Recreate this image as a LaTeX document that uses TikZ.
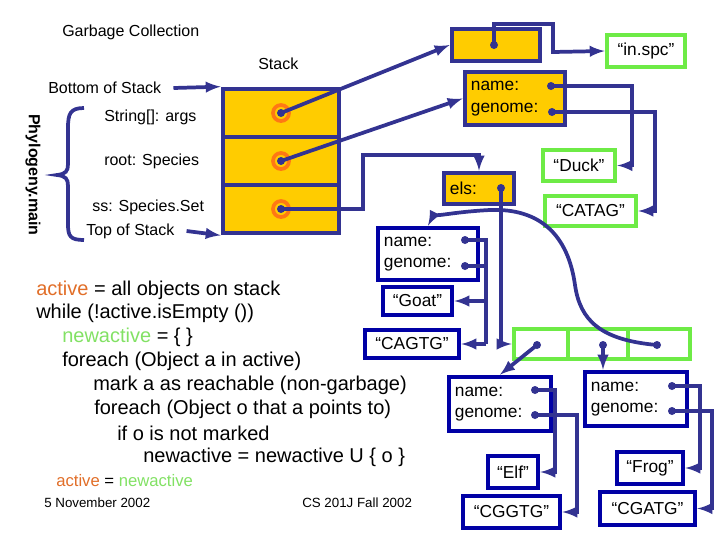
\documentclass[tikz,border=0pt]{standalone}
\usepackage{fontspec}
\setmainfont{Liberation Sans}
\usepackage{xcolor}
\usetikzlibrary{calc, arrows}
\definecolor{navy}{RGB}{51,51,145}
\definecolor{deepblue}{RGB}{0,0,165}
\definecolor{gold}{RGB}{255,204,0}
\definecolor{lime}{RGB}{110,235,70}
\definecolor{ring}{RGB}{255,120,20}
\definecolor{actcol}{RGB}{225,110,40}
\definecolor{newcol}{RGB}{130,225,100}
\tikzset{
  ybox/.style={draw=navy, fill=gold, line width=3.5pt, inner sep=0pt},
  gbox/.style={draw=lime, fill=white, line width=3.5pt, inner sep=0pt, font=\fontsize{13}{15}\selectfont},
  bbox/.style={draw=deepblue, fill=white, line width=3.5pt, inner sep=0pt, font=\fontsize{13}{15}\selectfont},
  ptr/.style={draw=navy, line width=2.8pt},
  arr/.style={ptr, -latex},
  lbl/.style={anchor=west, inner sep=0pt, align=left, font=\fontsize{13}{16}\selectfont},
  code/.style={anchor=west, inner sep=0pt, font=\fontsize{15}{18}\selectfont},
}
\newcommand{\pdot}[1]{\fill[navy] (#1) circle (3pt);}
\begin{document}
\begin{tikzpicture}[x=0.75pt,y=0.75pt,yscale=-1,xscale=1]
      \useasboundingbox (0,0) rectangle (720,540);
      % titles
      \node[lbl, font=\fontsize{12}{14}\selectfont] (title) at (62,32) {Garbage Collection};
      \node[lbl, font=\fontsize{12}{14}\selectfont] (stk) at (258,64) {Stack};
      \node[lbl, font=\fontsize{12}{14}\selectfont] (bot) at (48,88) {Bottom of Stack};
      \node[lbl, font=\fontsize{12}{14}\selectfont] (topstk) at (86,231) {Top of Stack};
      \node[lbl, font=\fontsize{12}{14}\selectfont] (args) at (104,117) {String[]: args};
      \node[lbl, font=\fontsize{12}{14}\selectfont] (root) at (104,161) {root: Species};
      \node[lbl, font=\fontsize{12}{14}\selectfont] (ss) at (92,207) {ss: Species.Set};
      \node[rotate=-90, inner sep=0pt, font=\bfseries\fontsize{12}{14}\selectfont] (phy) at (33,175) {Phylogeny.main};
      \draw[navy, line width=2.8pt] (84,108) .. controls (70,108) and (68,114) .. (68,128) -- (68,164) .. controls (68,171) and (66,174) .. (57,175) .. controls (66,176) and (68,179) .. (68,186) -- (68,224) .. controls (68,236) and (70,240) .. (84,240);
      % stack
      \node[ybox, minimum width=87pt, minimum height=36pt] (c1) at (281,113) {};
      \node[ybox, minimum width=87pt, minimum height=36pt] (c2) at (281,161) {};
      \node[ybox, minimum width=87pt, minimum height=36pt] (c3) at (281,209) {};
      \draw[arr] (bot.east) ++(12,0) coordinate (b0) -- (c1.north west);
      \draw[arr] (topstk.east) ++(12,0) coordinate (t0) -- (c3.south west);
      \foreach \c in {c1,c2,c3} {
        \draw[ring, line width=2.8pt] (\c.center) circle (6pt);
        \pdot{\c.center}
      }
      % heap objects
      \node[ybox, minimum width=66pt, minimum height=24pt] (argv) at (496,45) {};
      \node[gbox, minimum width=58.5pt, minimum height=24pt] (spc) at (646,51) {“in.spc”};
      \node[ybox, minimum width=75pt, minimum height=39.75pt] (duckobj) at (515,98.5) {};
      \node[lbl] at ($(duckobj.west)+(8,0)$) {name:\\genome:};
      \node[gbox, minimum width=54pt, minimum height=23.25pt] (duck) at (579,165.5) {“Duck”};
      \node[gbox, minimum width=68.25pt, minimum height=22.5pt] (catag) at (590.5,211) {“CATAG”};
      \node[ybox, minimum width=52.5pt, minimum height=23.25pt] (els) at (479,188.5) {};
      \node[lbl] at ($(els.west)+(8,0)$) {els:};
      \node[bbox, minimum width=75pt, minimum height=39pt] (goatobj) at (428,254) {};
      \node[lbl] at ($(goatobj.west)+(8,0)$) {name:\\genome:};
      \node[bbox, minimum width=51.75pt, minimum height=21pt] (goat) at (417.5,301) {“Goat”};
      \node[bbox, minimum width=70.5pt, minimum height=21pt] (cagtg) at (412,344) {“CAGTG”};
      \node[gbox, minimum width=40.5pt, minimum height=22.5pt] (a1) at (541,344) {};
      \node[gbox, minimum width=45pt, minimum height=22.5pt] (a2) at (598,344) {};
      \node[gbox, minimum width=46.5pt, minimum height=22.5pt] (a3) at (659,344) {};
      \node[bbox, minimum width=76.5pt, minimum height=40.5pt] (elfobj) at (500,404) {};
      \node[lbl] at ($(elfobj.west)+(8,0)$) {name:\\genome:};
      \node[bbox, minimum width=37.5pt, minimum height=24pt] (elf) at (513,472) {“Elf”};
      \node[bbox, minimum width=72.75pt, minimum height=24pt] (cggtg) at (511.5,512) {“CGGTG”};
      \node[bbox, minimum width=76.5pt, minimum height=40.5pt] (frogobj) at (636,399) {};
      \node[lbl] at ($(frogobj.west)+(8,0)$) {name:\\genome:};
      \node[bbox, minimum width=49.5pt, minimum height=24pt] (frog) at (650,468) {“Frog”};
      \node[bbox, minimum width=71.25pt, minimum height=24.75pt] (cgatg) at (647.5,508.5) {“CGATG”};
      % field dots
      \coordinate (pa) at (494,45);
      \coordinate (dn) at (551,86);  \coordinate (dg) at (552,112);
      \coordinate (pe) at (501,188);
      \coordinate (gn) at (465,240); \coordinate (gg) at (465,266);
      \coordinate (d1) at (537,345); \coordinate (d2) at (603,345); \coordinate (d3) at (657,345);
      \coordinate (en) at (535,390); \coordinate (eg) at (535,415);
      \coordinate (fn) at (672,386); \coordinate (fg) at (672,411);
      % pointers
      \draw[arr] (c1.center) -- (argv.west);
      \draw[arr] (c2.center) -- (duckobj.west);
      \draw[arr] (c3.center) -- (363,209) -- (363,155) -- (479,155) -- (els.north);
      \draw[arr] (pa) -- (494,24) -- (553,24) -- (553,52) -- (spc.west);
      \draw[arr] (dn) -- (632,86) -- (632,165.5) -- (duck.east);
      \draw[arr] (dg) -- (655,112) -- (655,211) -- (catag.east);
      \draw[arr] (pe) -- (501,344) -- (a1.west);
      \draw[arr] (d3) .. controls (600,340) and (580,320) .. (575,285) .. controls (568,235) and (540,208) .. (490,210) .. controls (450,212) and (432,218) .. (goatobj.north);
      \draw[ptr] (gn) -- (486,240) -- (486,344);
      \draw[ptr] (gg) -- (486,266);
      \draw[arr] (486,301) -- (goat.east);
      \draw[arr] (486,344) -- (cagtg.east);
      \draw[arr] (d1) -- (elfobj.north);
      \draw[arr] (d2) -- (frogobj.north -| d2);
      \draw[arr] (en) -- (555,390) -- (555,472) -- (elf.east);
      \draw[arr] (eg) -- (577,415) -- (577,512) -- (cggtg.east);
      \draw[arr] (fn) -- (700,386) -- (700,468) -- (frog.east);
      \draw[arr] (fg) -- (712,411) -- (712,508.5) -- (cgatg.east);
      \foreach \p in {pa,dn,dg,pe,gn,gg,d1,d2,d3,en,eg,fn,fg} {\pdot{\p}}
      % algorithm
      \node[code] (l1) at (36,290) {\textcolor{actcol}{active} = all objects on stack};
      \node[code] (l2) at (36,313) {while (!active.isEmpty ())};
      \node[code] (l3) at (62,337) {\textcolor{newcol}{newactive} = \{ \}};
      \node[code] (l4) at (62,361) {foreach (Object a in active)};
      \node[code] (l5) at (93,385) {mark a as reachable (non-garbage)};
      \node[code] (l6) at (94,409) {foreach (Object o that a points to)};
      \node[code] (l7) at (117,433) {if o is not marked};
      \node[code] (l8) at (143,457) {newactive = newactive U \{ o \}};
      \node[code, font=\fontsize{12.5}{15}\selectfont] (l9) at (56,481) {\textcolor{actcol}{active} = \textcolor{newcol}{newactive}};
      \node[code, font=\fontsize{10}{12}\selectfont] (date) at (44,503) {5 November 2002};
      \node[code, font=\fontsize{10}{12}\selectfont] (course) at (302,503) {CS 201J Fall 2002};
\end{tikzpicture}
\end{document}
